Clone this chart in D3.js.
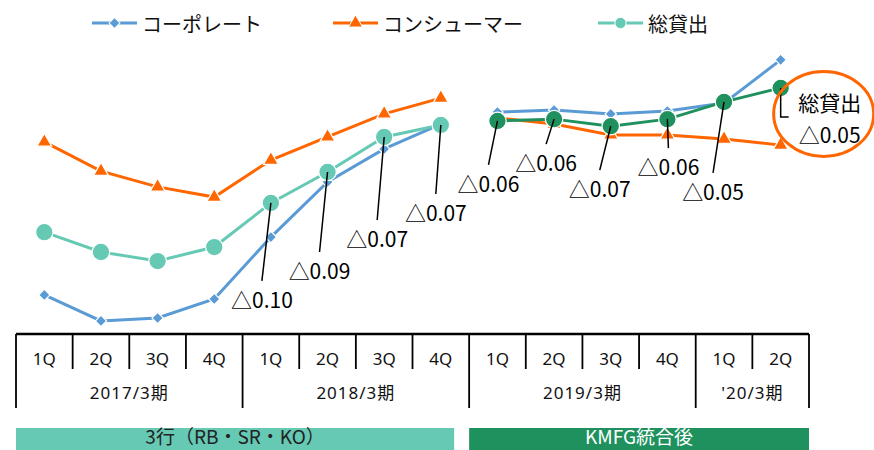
<!DOCTYPE html>
<html lang="ja">
<head>
<meta charset="UTF-8">
<title>貸出金利回り</title>
<script src="https://d3js.org/d3.v7.min.js"></script>
<style>
  * { margin: 0; padding: 0; }
  body { background: #fff; }
  svg { display: block; font-family: "Noto Sans CJK JP", "Noto Sans", sans-serif; }
</style>
</head>
<body>
<script>
// data
const quarterLabels = ["1Q","2Q","3Q","4Q","1Q","2Q","3Q","4Q","1Q","2Q","3Q","4Q","1Q","2Q"]
const fiscalYears = ["2017/3期","2018/3期","2019/3期","'20/3期"]
const quartersPerYear = [4, 4, 4, 2]
const eraLabels = ["3行（RB・SR・KO）", "KMFG統合後"]
const eraOfPoint = [0,0,0,0,0,0,0,0,1,1,1,1,1,1]

const seriesNames = ["コーポレート", "コンシューマー", "総貸出"]
const corporate  = [12.7, 3.8, 4.8, 11.3, 32.5, 51.4, 62.7, 71.2, 75.3, 76.0, 74.7, 75.7, 78.4, 93.2]
const consumer   = [65.1, 55.1, 49.7, 46.2, 58.9, 66.8, 74.7, 80.1, 73.3, 71.2, 67.5, 67.5, 66.1, 64.0]
const totalLoans = [34.2, 27.4, 24.3, 29.1, 44.2, 54.8, 66.8, 70.9, 72.3, 72.9, 70.5, 72.9, 78.8, 83.6]
const totalChange = [null, null, null, null, "△0.10", "△0.09", "△0.07", "△0.07", "△0.06", "△0.06", "△0.07", "△0.06", "△0.05", "△0.05"]

// layout
const width = 874
const height = 450
const axisY = 334
const labelOffset = {4: [-9, 96], 5: [-8, 98], 6: [-7, 101], 7: [-5, 87], 8: [-9, 62],
                     9: [-8, 43], 10: [-11, 62], 11: [1, 47], 12: [-11, 89]}
const blue = "#5b9bd5", orange = "#ff6600", teal = "#66c9b4", green = "#1f915e"

const keys = quarterLabels.map((q, i) => i + "_" + q)

const x = d3.scaleBand().domain(keys).range([16, 809]).padding(0)
const y = d3.scaleLinear().domain([0, 100]).range([332, 40])
const cx = i => x(keys[i]) + x.bandwidth() / 2

const svg = d3.select("body").append("svg")
  .attr("width", width)
  .attr("height", height)

const line = d3.line().x(d => cx(d.i)).y(d => y(d.v))

const diamond = d3.symbol(d3.symbolSquare, 64)()
const triangle = d3.symbol(d3.symbolTriangle, 95)()
const circle = d3.symbol(d3.symbolCircle, 240)()

function drawSeries(values, color, marker) {
  const g = svg.append("g")
  const pts = values.map((v, i) => ({ i, v }))
  ;[0, 1].forEach(e => {
    const seg = pts.filter(d => eraOfPoint[d.i] === e)
    const c = typeof color === "function" ? color(e) : color
    g.append("path")
      .attr("d", line(seg))
      .attr("fill", "none")
      .attr("stroke", c)
      .attr("stroke-width", 3)
  })
  g.selectAll(".m")
    .data(pts)
    .enter()
    .append("path")
    .attr("d", marker)
    .attr("transform", d => `translate(${cx(d.i)},${y(d.v)})` + (marker === diamond ? " rotate(45)" : ""))
    .attr("fill", d => typeof color === "function" ? color(eraOfPoint[d.i]) : color)
    .attr("stroke", "#fff")
    .attr("stroke-width", 1.2)
}

drawSeries(consumer, orange, triangle)
drawSeries(corporate, blue, diamond)
drawSeries(totalLoans, e => e === 0 ? teal : green, circle)

// change annotations for total loans
const ann = svg.append("g")
totalChange.forEach((t, i) => {
  if (!t || !labelOffset[i]) return
  const px = cx(i), py = y(totalLoans[i])
  const lx = px + labelOffset[i][0], ly = py + labelOffset[i][1]
  ann.append("line")
    .attr("x1", px).attr("y1", py)
    .attr("x2", lx).attr("y2", ly - 18)
    .attr("stroke", "#000")
    .attr("stroke-width", 1.5)
  ann.append("text")
    .attr("x", lx).attr("y", ly)
    .attr("text-anchor", "middle")
    .attr("dominant-baseline", "central")
    .attr("font-size", 21)
    .text(t)
})

// last point callout
const last = totalLoans.length - 1
const lpx = cx(last), lpy = y(totalLoans[last])
ann.append("path")
  .attr("d", `M${lpx},${lpy} V${lpy + 29} H${lpx + 8}`)
  .attr("fill", "none")
  .attr("stroke", "#000")
  .attr("stroke-width", 1.5)
ann.append("text")
  .attr("x", lpx + 49).attr("y", lpy + 14)
  .attr("text-anchor", "middle")
  .attr("dominant-baseline", "central")
  .attr("font-size", 21)
  .text(seriesNames[2])
ann.append("text")
  .attr("x", lpx + 49).attr("y", lpy + 46)
  .attr("text-anchor", "middle")
  .attr("dominant-baseline", "central")
  .attr("font-size", 21)
  .text(totalChange[last])
ann.append("ellipse")
  .attr("cx", lpx + 43).attr("cy", lpy + 26)
  .attr("rx", 50).attr("ry", 42.5)
  .attr("fill", "none")
  .attr("stroke", orange)
  .attr("stroke-width", 3)

// category axis
const axis = svg.append("g")
axis.append("line")
  .attr("x1", 16).attr("x2", 809)
  .attr("y1", axisY).attr("y2", axisY)
  .attr("stroke", "#000").attr("stroke-width", 2.5)

const yearEdges = [0]
quartersPerYear.forEach(n => yearEdges.push(yearEdges[yearEdges.length - 1] + n))
d3.range(keys.length + 1).forEach(i => {
  const xe = i < keys.length ? x(keys[i]) : x.range()[1]
  axis.append("line")
    .attr("x1", xe).attr("x2", xe)
    .attr("y1", axisY).attr("y2", yearEdges.includes(i) ? 408 : 369)
    .attr("stroke", "#000").attr("stroke-width", 1.8)
})
quarterLabels.forEach((q, i) => {
  axis.append("text")
    .attr("x", cx(i)).attr("y", 358)
    .attr("text-anchor", "middle")
    .attr("dominant-baseline", "central")
    .attr("font-family", "Noto Sans, sans-serif")
    .attr("font-size", 17)
    .attr("fill", "#111")
    .text(q)
})
fiscalYears.forEach((fy, j) => {
  const a = x(keys[yearEdges[j]])
  const b = yearEdges[j + 1] < keys.length ? x(keys[yearEdges[j + 1]]) : x.range()[1]
  axis.append("text")
    .attr("x", (a + b) / 2).attr("y", 392)
    .attr("text-anchor", "middle")
    .attr("dominant-baseline", "central")
    .attr("font-family", "Noto Sans, Noto Sans CJK JP, sans-serif")
    .attr("font-size", 17)
    .attr("letter-spacing", 1)
    .attr("fill", "#111")
    .text(fy)
})

// era bands
eraLabels.forEach((lab, e) => {
  const idx = eraOfPoint.map((v, i) => v === e ? i : -1).filter(i => i >= 0)
  const a = x(keys[idx[0]])
  const b = x(keys[idx[idx.length - 1]]) + x.bandwidth() - (e === 0 ? 15 : 0)
  svg.append("rect")
    .attr("x", a).attr("y", 428)
    .attr("width", b - a).attr("height", 30)
    .attr("fill", e === 0 ? teal : green)
  svg.append("text")
    .attr("x", (a + b) / 2).attr("y", 444)
    .attr("text-anchor", "middle")
    .attr("font-size", 19)
    .attr("fill", e === 0 ? "#222" : "#fff")
    .text(lab)
})

// legend
const legendX = [92, 333, 598]
const legendColor = [blue, orange, teal]
const legendMarker = [d3.symbol(d3.symbolSquare, 60)(), d3.symbol(d3.symbolTriangle, 85)(), d3.symbol(d3.symbolCircle, 100)()]
seriesNames.forEach((name, k) => {
  const lg = svg.append("g").attr("transform", `translate(${legendX[k]},23)`)
  lg.append("line")
    .attr("x1", 0).attr("x2", 45)
    .attr("stroke", legendColor[k]).attr("stroke-width", 3)
  lg.append("path")
    .attr("d", legendMarker[k])
    .attr("transform", "translate(22.5,0)" + (k === 0 ? " rotate(45)" : ""))
    .attr("fill", legendColor[k])
    .attr("stroke", "#fff")
    .attr("stroke-width", 1)
  lg.append("text")
    .attr("x", 50)
    .attr("dominant-baseline", "central")
    .attr("font-size", 20)
    .attr("fill", "#111")
    .text(name)
})
</script>
</body>
</html>
